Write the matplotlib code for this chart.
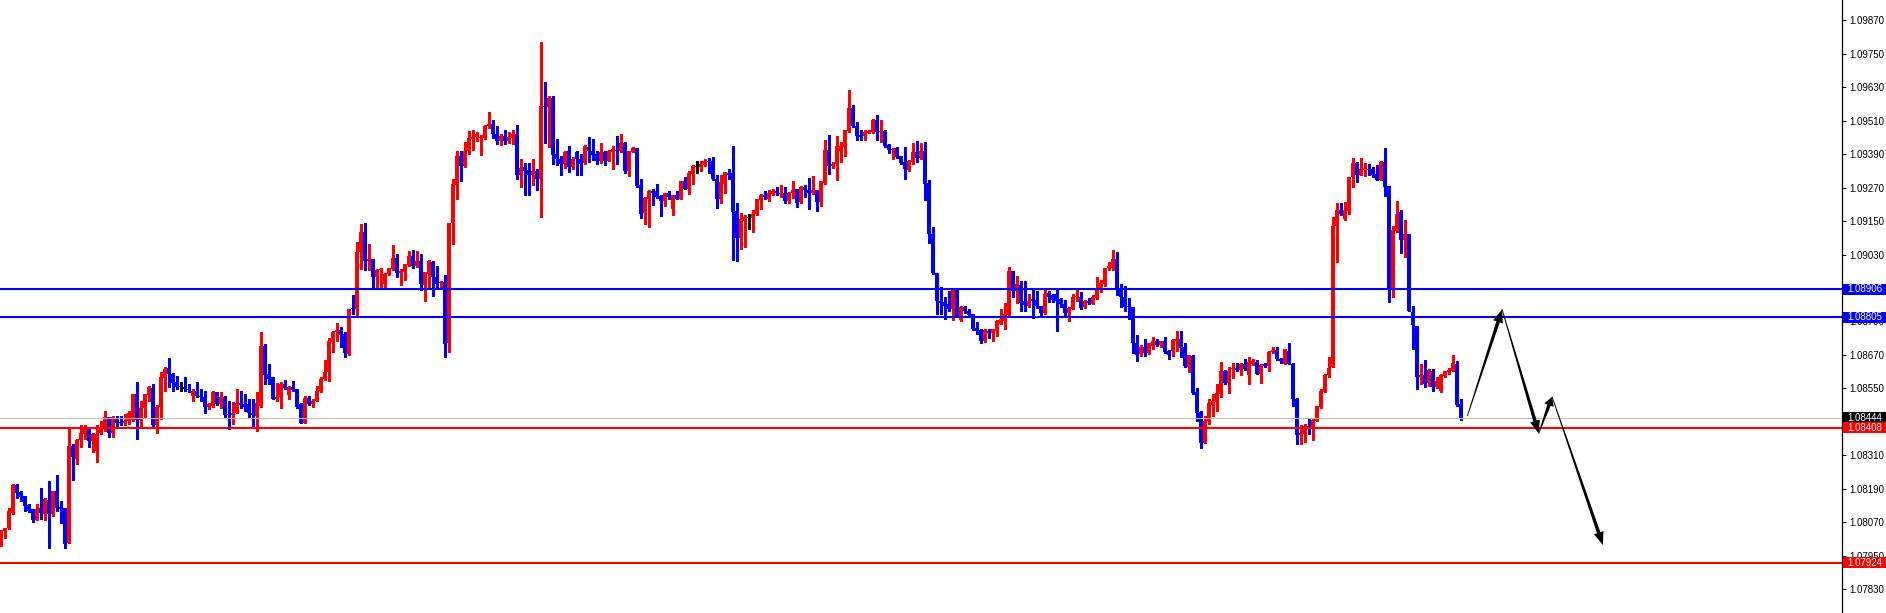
import numpy as np
import matplotlib
matplotlib.use("Agg")
import matplotlib.pyplot as plt
from matplotlib.patches import Polygon, Rectangle
from matplotlib.transforms import IdentityTransform

# EURUSD-style candles, prices in points (1e-5)
open_pts = [
    107984, 108038, 108050, 108104, 108204, 108177, 108163, 108132, 108117, 108079,
    108120, 108098, 108148, 108098, 108182, 108124, 108120, 107996, 108344, 108298,
    108364, 108386, 108408, 108362, 108324, 108388, 108410, 108448, 108391, 108444,
    108429, 108427, 108432, 108436, 108530, 108436, 108480, 108526, 108552, 108417,
    108482, 108588, 108624, 108602, 108571, 108556, 108556, 108549, 108523, 108540,
    108523, 108520, 108482, 108487, 108535, 108494, 108520, 108458, 108456, 108460,
    108499, 108492, 108492, 108463, 108451, 108487, 108703, 108600, 108590, 108513,
    108518, 108566, 108525, 108554, 108547, 108494, 108427, 108515, 108495, 108505,
    108539, 108582, 108607, 108715, 108751, 108759, 108745, 108673, 108839, 108834,
    109039, 109110, 109007, 109013, 108949, 108973, 108925, 108959, 108978, 109019,
    108963, 108966, 108992, 109023, 108987, 109007, 108919, 108961, 109003, 108951,
    108927, 108933, 108711, 109143, 109278, 109385, 109349, 109401, 109446, 109451,
    109448, 109449, 109490, 109497, 109461, 109437, 109456, 109437, 109449, 109463,
    109317, 109343, 109333, 109317, 109331, 109300, 109564, 109559, 109590, 109389,
    109374, 109353, 109403, 109343, 109398, 109374, 109357, 109415, 109403, 109389,
    109367, 109398, 109367, 109396, 109405, 109401, 109429, 109329, 109398, 109413,
    109281, 109180, 109229, 109257, 109257, 109240, 109223, 109249, 109192, 109242,
    109230, 109293, 109266, 109319, 109345, 109343, 109350, 109367, 109365, 109302,
    109230, 109283, 109324, 109321, 109187, 109091, 109151, 109161, 109161, 109175,
    109225, 109242, 109230, 109247, 109259, 109247, 109252, 109221, 109249, 109264,
    109218, 109272, 109262, 109250, 109260, 109218, 109286, 109404, 109346, 109354,
    109402, 109414, 109474, 109555, 109490, 109457, 109454, 109466, 109469, 109514,
    109470, 109472, 109422, 109406, 109411, 109382, 109361, 109332, 109361, 109397,
    109375, 109402, 109286, 109104, 108965, 108864, 108859, 108854, 108835, 108902,
    108794, 108842, 108828, 108816, 108768, 108758, 108718, 108756, 108750, 108754,
    108782, 108792, 108814, 108970, 108898, 108922, 108862, 108847, 108869, 108866,
    108847, 108821, 108893, 108883, 108888, 108869, 108854, 108821, 108835, 108876,
    108879, 108841, 108863, 108853, 108875, 108901, 108923, 108980, 108980, 109013,
    108908, 108879, 108843, 108843, 108714, 108673, 108699, 108678, 108702, 108721,
    108707, 108721, 108685, 108685, 108719, 108728, 108697, 108627, 108666, 108536,
    108464, 108355, 108431, 108491, 108500, 108529, 108613, 108570, 108620, 108623,
    108615, 108637, 108599, 108639, 108644, 108603, 108637, 108630, 108680, 108687,
    108656, 108639, 108685, 108639, 108511, 108383, 108385, 108416, 108409, 108433,
    108483, 108538, 108596, 108625, 109131, 109191, 109159, 109187, 109307, 109357,
    109316, 109333, 109338, 109335, 109319, 109299, 109362, 109275, 108903, 109115,
    109182, 109081, 109103, 108825, 108774, 108591, 108599, 108570, 108613, 108553,
    108539, 108594, 108608, 108613, 108637, 108493,
]
high_pts = [
    108040, 108050, 108120, 108206, 108208, 108180, 108163, 108134, 108117, 108134,
    108192, 108158, 108218, 108182, 108240, 108146, 108122, 108410, 108350, 108368,
    108417, 108420, 108410, 108391, 108420, 108432, 108470, 108448, 108451, 108451,
    108451, 108458, 108470, 108530, 108571, 108506, 108530, 108559, 108564, 108489,
    108607, 108628, 108657, 108604, 108595, 108573, 108590, 108564, 108547, 108571,
    108547, 108542, 108499, 108542, 108535, 108537, 108523, 108506, 108501, 108549,
    108542, 108528, 108511, 108511, 108535, 108751, 108710, 108636, 108592, 108568,
    108571, 108580, 108559, 108578, 108549, 108497, 108523, 108523, 108511, 108560,
    108589, 108651, 108731, 108757, 108783, 108771, 108751, 108836, 108883, 109074,
    109139, 109143, 109067, 109015, 108979, 108980, 108963, 108983, 109063, 109031,
    108979, 108997, 109043, 109045, 109043, 109031, 108966, 109009, 109007, 108987,
    108935, 108955, 109143, 109300, 109403, 109401, 109432, 109473, 109475, 109470,
    109457, 109494, 109540, 109511, 109492, 109461, 109475, 109468, 109475, 109493,
    109374, 109357, 109357, 109374, 109336, 109792, 109648, 109600, 109597, 109444,
    109384, 109403, 109420, 109379, 109401, 109389, 109422, 109451, 109444, 109403,
    109429, 109403, 109405, 109420, 109456, 109463, 109432, 109403, 109415, 109413,
    109302, 109235, 109261, 109266, 109283, 109242, 109252, 109259, 109245, 109257,
    109295, 109307, 109329, 109350, 109365, 109367, 109372, 109377, 109379, 109317,
    109317, 109326, 109338, 109420, 109216, 109180, 109173, 109177, 109189, 109230,
    109247, 109259, 109261, 109264, 109273, 109281, 109273, 109254, 109293, 109266,
    109274, 109278, 109306, 109313, 109262, 109294, 109440, 109457, 109361, 109454,
    109435, 109476, 109620, 109567, 109505, 109478, 109478, 109476, 109517, 109531,
    109514, 109476, 109426, 109411, 109414, 109385, 109414, 109368, 109430, 109438,
    109430, 109435, 109296, 109128, 108965, 108912, 108876, 108900, 108902, 108902,
    108845, 108847, 108835, 108818, 108787, 108761, 108761, 108763, 108761, 108794,
    108835, 108857, 108984, 108970, 108953, 108936, 108936, 108888, 108902, 108900,
    108847, 108902, 108900, 108888, 108905, 108874, 108866, 108840, 108888, 108902,
    108894, 108867, 108875, 108884, 108949, 108937, 108983, 109004, 109047, 109038,
    108923, 108918, 108875, 108843, 108740, 108704, 108728, 108714, 108733, 108728,
    108721, 108735, 108687, 108726, 108755, 108755, 108711, 108671, 108668, 108551,
    108467, 108450, 108510, 108529, 108567, 108644, 108615, 108625, 108642, 108642,
    108642, 108654, 108661, 108654, 108651, 108639, 108642, 108683, 108699, 108697,
    108659, 108692, 108711, 108642, 108515, 108419, 108421, 108440, 108440, 108488,
    108546, 108601, 108661, 109165, 109213, 109213, 109218, 109309, 109376, 109362,
    109376, 109359, 109355, 109343, 109352, 109367, 109412, 109275, 109134, 109223,
    109189, 109155, 109103, 108846, 108774, 108637, 108651, 108618, 108618, 108591,
    108601, 108613, 108623, 108671, 108647, 108512,
]
low_pts = [
    107984, 108014, 108044, 108100, 108158, 108146, 108110, 108108, 108072, 108079,
    108080, 108076, 107976, 108092, 108110, 108068, 107976, 107996, 108222, 108278,
    108338, 108368, 108338, 108320, 108284, 108386, 108398, 108374, 108374, 108415,
    108420, 108420, 108422, 108434, 108367, 108412, 108446, 108506, 108415, 108388,
    108439, 108542, 108556, 108542, 108547, 108540, 108542, 108537, 108504, 108520,
    108504, 108463, 108475, 108482, 108489, 108480, 108446, 108403, 108422, 108460,
    108480, 108470, 108446, 108412, 108396, 108482, 108566, 108566, 108511, 108504,
    108480, 108547, 108511, 108542, 108480, 108425, 108427, 108491, 108483, 108503,
    108536, 108579, 108577, 108679, 108721, 108699, 108661, 108671, 108817, 108805,
    108979, 108975, 108975, 108915, 108915, 108915, 108913, 108955, 108975, 108949,
    108920, 108937, 108990, 108983, 108985, 108901, 108863, 108913, 108882, 108907,
    108915, 108663, 108679, 109069, 109228, 109293, 109345, 109389, 109405, 109437,
    109386, 109446, 109485, 109449, 109427, 109422, 109427, 109429, 109427, 109300,
    109271, 109242, 109245, 109278, 109261, 109163, 109429, 109415, 109353, 109350,
    109314, 109341, 109325, 109336, 109314, 109314, 109355, 109362, 109369, 109353,
    109360, 109350, 109365, 109336, 109353, 109398, 109321, 109312, 109396, 109273,
    109161, 109141, 109127, 109209, 109233, 109168, 109204, 109230, 109173, 109228,
    109228, 109264, 109247, 109283, 109321, 109331, 109348, 109324, 109297, 109197,
    109213, 109249, 109300, 109012, 109005, 109048, 109057, 109120, 109110, 109173,
    109192, 109230, 109221, 109242, 109242, 109237, 109216, 109216, 109233, 109201,
    109214, 109236, 109193, 109248, 109186, 109205, 109282, 109320, 109342, 109296,
    109363, 109382, 109469, 109486, 109440, 109442, 109440, 109466, 109466, 109440,
    109435, 109414, 109394, 109373, 109378, 109354, 109301, 109330, 109356, 109361,
    109373, 109224, 109070, 108960, 108816, 108816, 108799, 108826, 108794, 108809,
    108792, 108821, 108806, 108758, 108744, 108713, 108715, 108732, 108718, 108737,
    108780, 108763, 108811, 108876, 108857, 108828, 108828, 108842, 108804, 108838,
    108814, 108818, 108859, 108859, 108754, 108840, 108811, 108792, 108833, 108862,
    108834, 108839, 108851, 108851, 108870, 108895, 108918, 108975, 108973, 108884,
    108841, 108829, 108798, 108675, 108647, 108666, 108666, 108673, 108690, 108702,
    108699, 108678, 108654, 108666, 108685, 108663, 108625, 108607, 108529, 108433,
    108335, 108355, 108421, 108450, 108469, 108519, 108565, 108534, 108587, 108613,
    108599, 108615, 108565, 108635, 108601, 108570, 108627, 108613, 108678, 108651,
    108642, 108637, 108637, 108486, 108351, 108351, 108359, 108385, 108363, 108431,
    108481, 108536, 108591, 108625, 109003, 109170, 109153, 109177, 109273, 109290,
    109314, 109311, 109316, 109309, 109297, 109297, 109239, 108858, 108877, 109112,
    109035, 109021, 108827, 108692, 108546, 108567, 108553, 108560, 108541, 108551,
    108536, 108589, 108603, 108611, 108486, 108435,
]
close_pts = [
    108038, 108050, 108110, 108204, 108176, 108160, 108127, 108110, 108079, 108117,
    108104, 108153, 108098, 108180, 108122, 108117, 107992, 108344, 108302, 108364,
    108391, 108410, 108362, 108386, 108386, 108410, 108448, 108388, 108446, 108427,
    108424, 108434, 108463, 108530, 108436, 108480, 108528, 108554, 108417, 108482,
    108590, 108621, 108602, 108568, 108554, 108556, 108547, 108544, 108542, 108523,
    108520, 108482, 108492, 108535, 108494, 108520, 108456, 108456, 108463, 108499,
    108489, 108484, 108460, 108453, 108499, 108703, 108597, 108585, 108513, 108520,
    108566, 108552, 108554, 108544, 108484, 108427, 108515, 108495, 108505, 108541,
    108584, 108608, 108721, 108752, 108759, 108743, 108675, 108836, 108834, 109038,
    109110, 109007, 109013, 108949, 108975, 108978, 108961, 108980, 109019, 108963,
    108971, 108995, 109023, 108990, 109007, 108925, 108966, 109005, 108949, 108925,
    108933, 108709, 109143, 109283, 109385, 109349, 109403, 109449, 109453, 109461,
    109453, 109492, 109497, 109461, 109437, 109456, 109437, 109451, 109461, 109317,
    109341, 109331, 109314, 109331, 109300, 109564, 109559, 109590, 109386, 109372,
    109353, 109398, 109343, 109374, 109372, 109353, 109420, 109401, 109386, 109367,
    109396, 109365, 109403, 109408, 109401, 109429, 109329, 109401, 109413, 109277,
    109177, 109233, 109259, 109252, 109235, 109223, 109249, 109235, 109242, 109230,
    109293, 109266, 109321, 109348, 109345, 109353, 109367, 109362, 109302, 109230,
    109289, 109325, 109317, 109181, 109091, 109156, 109163, 109161, 109177, 109228,
    109242, 109235, 109249, 109259, 109249, 109252, 109221, 109252, 109263, 109216,
    109272, 109262, 109250, 109260, 109218, 109294, 109404, 109346, 109356, 109418,
    109418, 109476, 109555, 109490, 109454, 109450, 109469, 109472, 109514, 109469,
    109472, 109418, 109404, 109409, 109380, 109358, 109337, 109366, 109399, 109378,
    109402, 109282, 109104, 108962, 108862, 108857, 108847, 108833, 108902, 108811,
    108842, 108826, 108814, 108763, 108756, 108718, 108758, 108750, 108761, 108790,
    108797, 108816, 108970, 108898, 108926, 108857, 108850, 108864, 108862, 108845,
    108821, 108890, 108876, 108866, 108862, 108852, 108821, 108838, 108878, 108881,
    108839, 108865, 108855, 108879, 108911, 108927, 108980, 108987, 109013, 108906,
    108877, 108841, 108841, 108711, 108671, 108699, 108678, 108711, 108721, 108707,
    108721, 108680, 108668, 108723, 108728, 108695, 108630, 108668, 108534, 108463,
    108355, 108433, 108498, 108505, 108534, 108613, 108570, 108613, 108623, 108615,
    108639, 108618, 108644, 108647, 108603, 108635, 108630, 108680, 108687, 108656,
    108647, 108690, 108639, 108510, 108383, 108390, 108416, 108409, 108438, 108486,
    108541, 108599, 108623, 109134, 109191, 109177, 109191, 109307, 109357, 109316,
    109338, 109340, 109333, 109316, 109299, 109362, 109271, 108903, 109117, 109177,
    109081, 109103, 108827, 108776, 108591, 108599, 108567, 108615, 108555, 108577,
    108599, 108611, 108615, 108642, 108491, 108443,
]

# horizontal levels
blue_levels = [1.08906, 1.08805]
red_levels = [1.08408, 1.07924]
last_price = 1.08444
tick_values = [round(1.09870 - 0.0012 * k, 5) for k in range(18)]

# hand-drawn projection arrows: (bar index, price) waypoints
arrow_x = [366.7, 375.4, 384.55, 387.9, 400.6]
arrow_y = [1.08450, 1.08833, 1.08388, 1.08520, 1.07988]

o = np.array(open_pts) / 1e5
h = np.array(high_pts) / 1e5
l = np.array(low_pts) / 1e5
c = np.array(close_pts) / 1e5
idx = np.arange(len(o))

W, H = 1886, 613
fig = plt.figure(figsize=(W / 100, H / 100), dpi=100)
ax = fig.add_axes([0, 0, 1842 / W, 1])
ax.set_xlim(-0.125, (1842 - 0.5) / 4)
ax.set_ylim(1.07744, 1.09943)

colors = np.where(c > o, "#FF0000", np.where(c < o, "#0000FF", "#000000"))
ax.vlines(idx, np.minimum(l, np.minimum(o, c)), np.maximum(h, np.maximum(o, c)),
          colors=colors, lw=0.75, antialiased=False, zorder=2)
body_lo = np.minimum(o, c)
body_h = np.maximum(np.abs(c - o), 0.00003)
ax.bar(idx, body_h, bottom=body_lo, width=0.75, color=colors, linewidth=0,
       antialiased=False, zorder=3)

# levels
for lv in blue_levels:
    ax.axhline(lv, color="#0000FF", lw=1.5, zorder=4)
for lv in red_levels:
    ax.axhline(lv, color="#FF0000", lw=1.5, zorder=4)
ax.axhline(last_price, color="#C0C0C0", lw=0.8, zorder=4)

# axis styling
for s in ["left", "top", "bottom"]:
    ax.spines[s].set_visible(False)
ax.spines["right"].set_color("black")
ax.spines["right"].set_linewidth(0.9)
ax.set_xticks([])
ax.yaxis.tick_right()
ax.set_yticks(tick_values)
ax.set_yticklabels([f"{v:.5f}" for v in tick_values], family="Liberation Sans")
ax.tick_params(axis="y", length=3, width=0.7, pad=2.5, labelsize=7, colors="black")

# price boxes on the axis
box_h = 11 * (1.09943 - 1.07744) / H
ytr = ax.get_yaxis_transform()
for price, col in [(blue_levels[0], "#0000FF"), (blue_levels[1], "#0000FF"),
                   (last_price, "#000000"), (red_levels[0], "#FF0000"),
                   (red_levels[1], "#FF0000")]:
    ax.add_patch(Rectangle((1843.5 / 1842, price - box_h / 2), 42.5 / 1842, box_h,
                           transform=ytr, facecolor=col, edgecolor="none",
                           clip_on=False, zorder=6))
    ax.text(1847.5 / 1842, price, f"{price:.5f}", transform=ytr, color="white",
            fontsize=7, family="Liberation Sans", va="center", ha="left",
            clip_on=False, zorder=7)


def tapered_arrow(p0, p1, w0=0.8, w1=3.5, head_w=10, head_len=13):
    a = np.array(ax.transData.transform(p0))
    b = np.array(ax.transData.transform(p1))
    d = b - a
    u = d / np.hypot(*d)
    n = np.array([-u[1], u[0]])
    base = b - u * head_len
    pts = [a + n * w0 / 2, base + n * w1 / 2, base + n * head_w / 2, b,
           base - n * head_w / 2, base - n * w1 / 2, a - n * w0 / 2]
    ax.add_patch(Polygon(pts, closed=True, transform=IdentityTransform(),
                         facecolor="black", edgecolor="none", zorder=8))


for i in range(len(arrow_x) - 1):
    hl = 9 if i == 2 else 13
    tapered_arrow((arrow_x[i], arrow_y[i]), (arrow_x[i + 1], arrow_y[i + 1]), head_len=hl)

fig.savefig("out.png", dpi=100, facecolor="white")
